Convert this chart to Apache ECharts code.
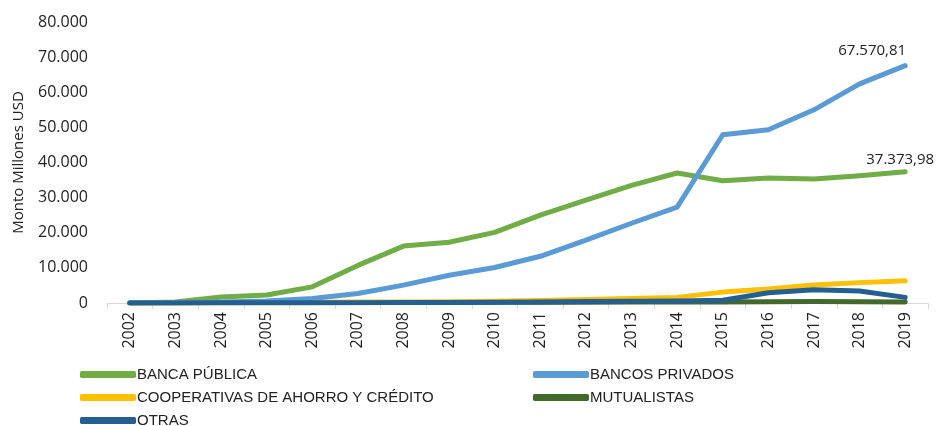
<!DOCTYPE html>
<html>
<head>
<meta charset="utf-8">
<script src="https://cdn.jsdelivr.net/npm/echarts@6/dist/echarts.min.js"></script>
<style>
  html, body { margin: 0; padding: 0; background: #fff; }
  #main { width: 940px; height: 426px; }
</style>
</head>
<body>
<div id="main"></div>
<script>
var years = ['2002', '2003', '2004', '2005', '2006', '2007', '2008', '2009', '2010',
  '2011', '2012', '2013', '2014', '2015', '2016', '2017', '2018', '2019']

var bancaPublica = [0, 300, 1700, 2300, 4600, 10700, 16200, 17300, 20100,
  25000, 29300, 33500, 37000, 34800, 35600, 35300, 36200, 37373.98]
var bancosPrivados = [0, 100, 300, 600, 1300, 2700, 5100, 7900, 10100,
  13300, 17900, 22700, 27300, 47900, 49300, 55000, 62400, 67570.81]
var cooperativas = [0, 50, 100, 150, 200, 250, 300, 350, 500,
  700, 1000, 1300, 1600, 3100, 4000, 5100, 5800, 6300]
var mutualistas = [0, 30, 50, 80, 100, 120, 150, 150, 180,
  200, 220, 250, 250, 300, 350, 400, 350, 300]
var otras = [0, 20, 40, 60, 80, 100, 120, 150, 200,
  300, 400, 500, 600, 800, 2900, 3800, 3400, 1600]

var yTicks = [0, 10000, 20000, 30000, 40000, 50000, 60000, 70000, 80000]

var names = ['BANCA PÚBLICA', 'BANCOS PRIVADOS', 'COOPERATIVAS DE AHORRO Y CRÉDITO', 'MUTUALISTAS', 'OTRAS']
var colors = ['#70AD47', '#5B9BD5', '#FFC000', '#43682B', '#255E91']

function fmtThousands (v) {
  return String(v).replace(/\B(?=(\d{3})+(?!\d))/g, '.')
}

function fmtLabel (v) {
  var parts = v.toFixed(2).split('.')
  return fmtThousands(parts[0]) + ',' + parts[1]
}

var legendFont = "'Liberation Sans Narrow', 'Liberation Sans', Arial, sans-serif"
var legendPos = [
  { left: 75, top: 362 },
  { left: 528, top: 362 },
  { left: 75, top: 385 },
  { left: 528, top: 385 },
  { left: 75, top: 408 }
]

var legends = names.map(function (n, i) {
  return {
    data: [n],
    left: legendPos[i].left,
    top: legendPos[i].top,
    itemWidth: 56,
    itemHeight: 7,
    itemGap: 4,
    icon: 'roundRect',
    selectedMode: false,
    textStyle: { fontFamily: legendFont, fontSize: 15, color: '#222', padding: [0, 0, 0, -4] }
  }
})

var seriesData = [bancaPublica, bancosPrivados, cooperativas, mutualistas, otras]
var zOrder = [3, 4, 2, 1, 5]

var series = names.map(function (n, i) {
  return {
    name: n,
    type: 'line',
    data: seriesData[i],
    symbol: 'circle',
    symbolSize: 0,
    showSymbol: true,
    z: zOrder[i],
    lineStyle: { width: 5, color: colors[i], cap: 'round', join: 'round' },
    itemStyle: { color: colors[i] },
    emphasis: { disabled: true }
  }
})

var labelStyle = { fontFamily: "'Open Sans', 'Liberation Sans', sans-serif", fontSize: 15, color: '#222' }

// labels on the last point of the two large series
series[0].data = bancaPublica.map(function (v, k) {
  if (k !== bancaPublica.length - 1) return v
  return { value: v, label: Object.assign({ show: true, position: 'top', offset: [-5, 1], formatter: fmtLabel(v) }, labelStyle) }
})
series[1].data = bancosPrivados.map(function (v, k) {
  if (k !== bancosPrivados.length - 1) return v
  return { value: v, label: Object.assign({ show: true, position: 'top', offset: [-33, -2], formatter: fmtLabel(v) }, labelStyle) }
})

var option = {
  animation: false,
  backgroundColor: '#fff',
  textStyle: { fontFamily: "'Open Sans', 'Liberation Sans', sans-serif" },
  grid: { left: 107, right: 12, top: 22, bottom: 123 },
  legend: legends,
  xAxis: {
    type: 'category',
    data: years,
    boundaryGap: true,
    axisLine: { show: true, lineStyle: { color: '#d9d9d9', width: 1 } },
    axisTick: { show: true, length: 6, lineStyle: { color: '#d9d9d9' } },
    axisLabel: {
      rotate: 90,
      fontSize: 16,
      color: '#222',
      margin: 9,
      interval: 0
    }
  },
  yAxis: {
    type: 'value',
    min: 0,
    max: 80000,
    interval: 10000,
    name: 'Monto Millones USD',
    nameLocation: 'middle',
    nameRotate: 90,
    nameGap: 81,
    nameTextStyle: { fontSize: 15, color: '#222' },
    axisLine: { show: false },
    axisTick: { show: false },
    splitLine: { show: false },
    axisLabel: {
      fontSize: 16,
      color: '#222',
      margin: 19,
      customValues: yTicks,
      formatter: function (v) { return fmtThousands(v) }
    }
  },
  series: series
}

var myChart = echarts.init(document.getElementById('main'))
myChart.setOption(option)
</script>
</body>
</html>
